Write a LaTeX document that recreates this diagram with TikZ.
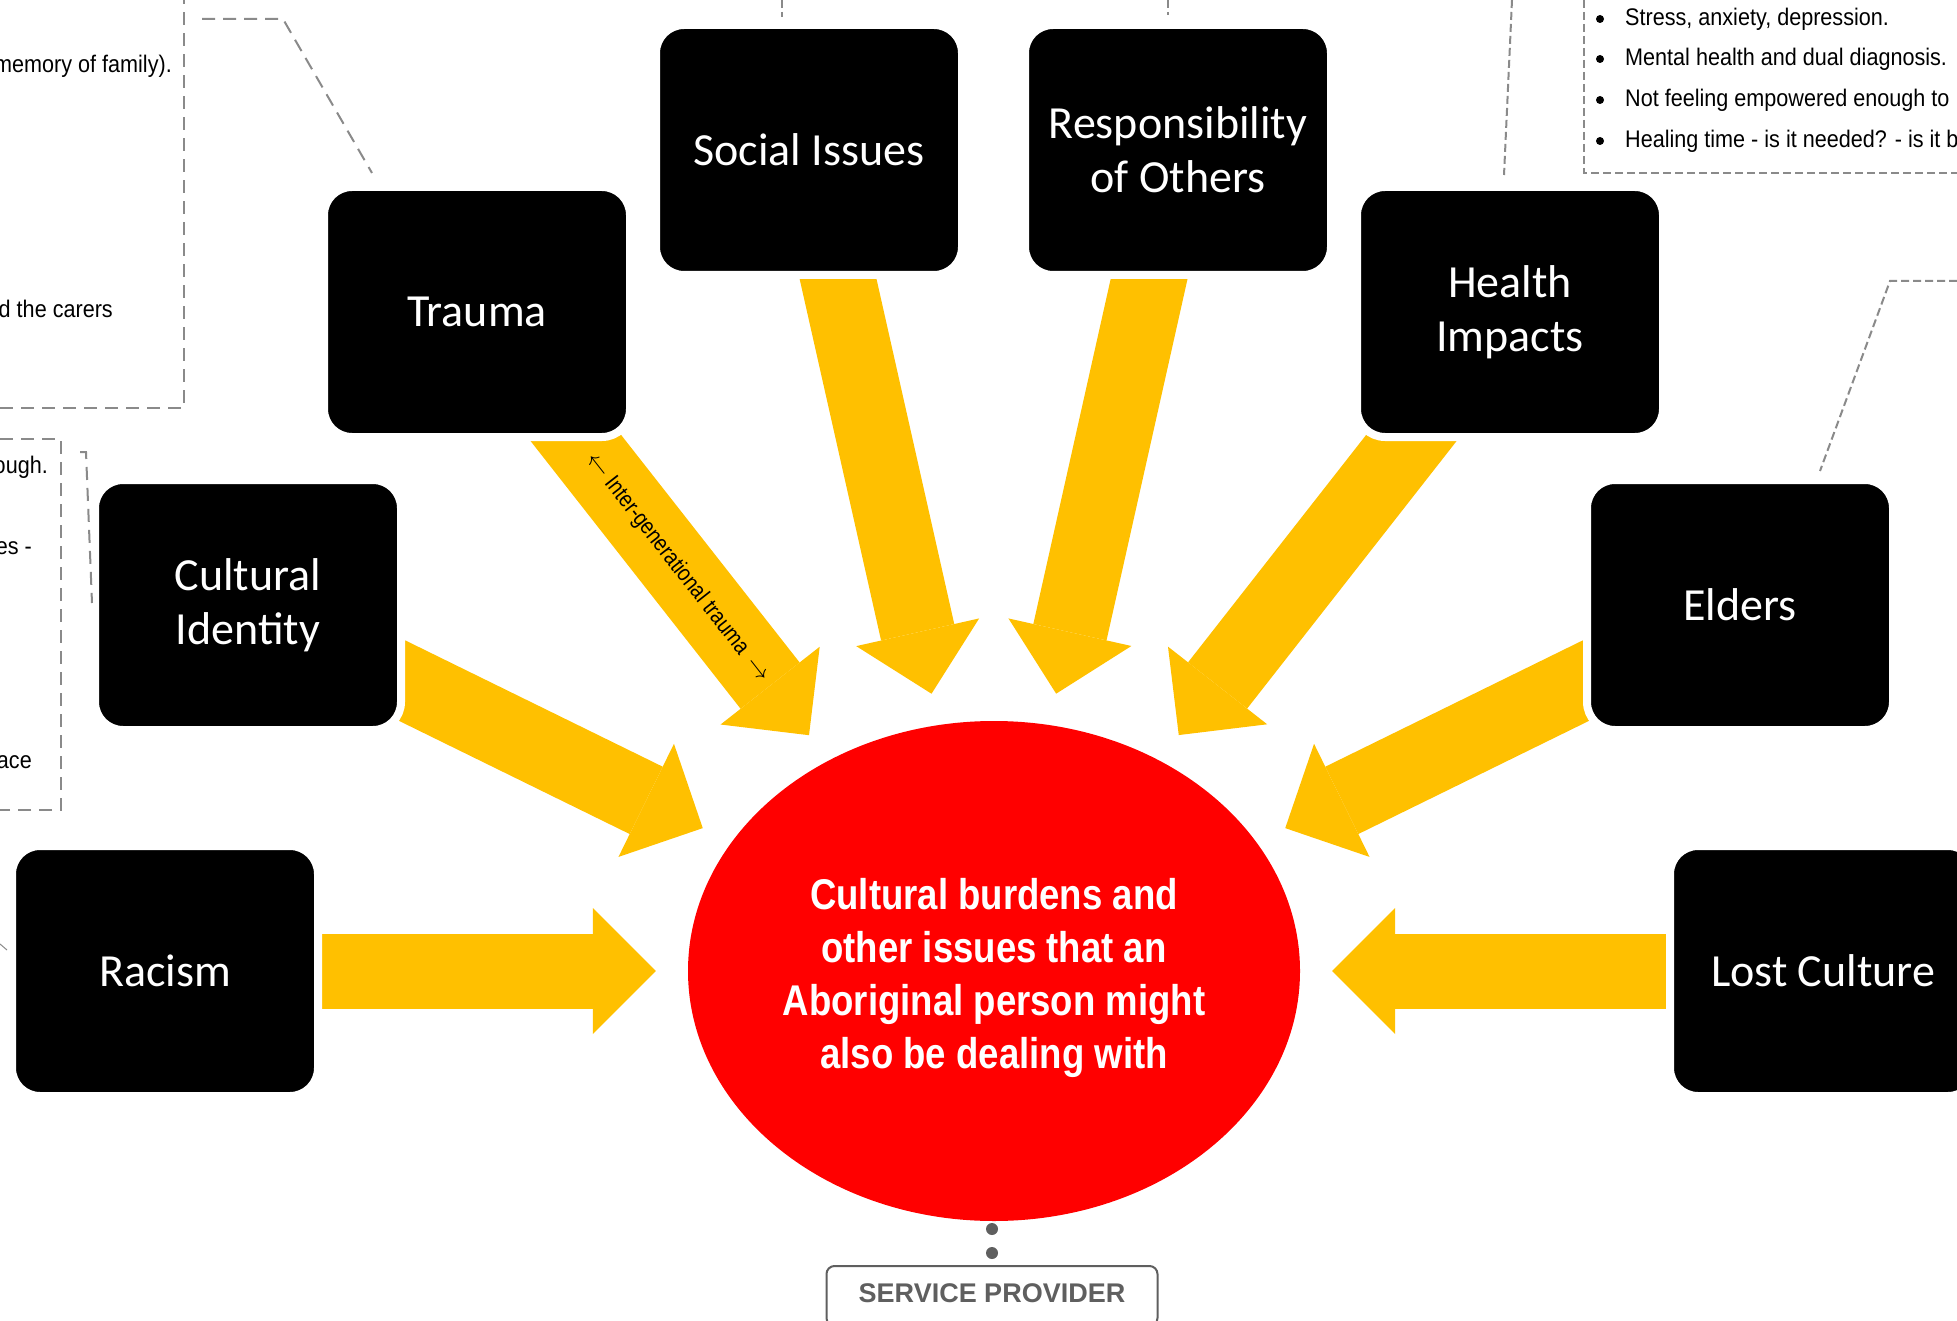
\documentclass[tikz,border=0pt]{standalone}
\usepackage{fontspec}
\setmainfont{Liberation Sans}
\newfontfamily\boxfont{Carlito}
\newfontfamily\narrowfont[FakeStretch=0.85]{Liberation Sans}
\newfontfamily\notefont[FakeStretch=0.9]{Liberation Sans}
\usetikzlibrary{arrows.meta,shapes.geometric,backgrounds}
\definecolor{gold}{HTML}{FFC000}
\definecolor{notegray}{HTML}{8A8A8A}
\definecolor{spgray}{HTML}{5F5F5F}
\begin{document}
\begin{tikzpicture}[x=1pt,y=-1pt,
  issue/.style={fill=black,draw=white,line width=8pt,rounded corners=28pt,minimum width=306pt,minimum height=250pt,
    text=white,align=center,font=\boxfont\fontsize{46}{54}\selectfont},
  core/.style={ellipse,fill=red,minimum width=612pt,minimum height=500pt,inner sep=0pt},
  coretext/.style={text=white,align=center,font=\narrowfont\bfseries\fontsize{43}{53}\selectfont},
  fat/.style={gold,line width=75pt,shorten >=32pt,-{Triangle[length=63pt,width=126pt,line width=0pt]}},
  note/.style={notegray,line width=2pt,dash pattern=on 13pt off 8pt},
  finenote/.style={notegray,line width=2pt,dash pattern=on 8pt off 4pt},
  snip/.style={anchor=east,inner sep=0pt,font=\notefont\fontsize{24}{28}\selectfont},
  item/.style={anchor=west,inner sep=0pt,font=\notefont\fontsize{24}{28}\selectfont},
  dot/.style={circle,fill=#1,inner sep=0pt}]
\useasboundingbox (0,0) rectangle (1957,1321);
\clip (0,0) rectangle (1957,1321);

\node[core] (burden) at (994,971) {};
\node[coretext] (burdentext) at (994,978) {Cultural burdens and\\other issues that an\\Aboriginal person might\\also be dealing with};

\node[issue] (trauma) at (477,312) {Trauma};
\node[issue] (social) at (809,150) {Social Issues};
\node[issue] (others) at (1178,150) {Responsibility\\of Others};
\node[issue] (health) at (1510,312) {Health\\Impacts};
\node[issue] (identity) at (248,605) {Cultural\\Identity};
\node[issue] (elders) at (1740,605) {Elders};
\node[issue] (racism) at (165,971) {Racism};
\node[issue] (lost) at (1823,971) {Lost Culture};

\begin{scope}[on background layer]
\foreach \n in {racism,identity,trauma,social,others,health,elders,lost}
  \draw[fat] (\n.center) -- (burden);
\end{scope}
\path (trauma.center) -- node[sloped,pos=0.57,font=\narrowfont\fontsize{23}{26}\selectfont] (igt)
  {$\leftarrow$ Inter-generational trauma \,$\rightarrow$} (burden);

\node[dot=spgray,minimum size=12pt] (d1) at (992,1229) {};
\node[dot=spgray,minimum size=12pt] (d2) at (992,1253) {};
\node[draw=spgray,line width=2pt,rounded corners=8pt,minimum width=331pt,minimum height=60pt,text depth=6pt,
  text=spgray,font=\bfseries\fontsize{27}{32}\selectfont] (provider) at (992,1296) {SERVICE PROVIDER};

\draw[note] (0,408) -- (184,408) -- (184,0);
\draw[note] (202,19) -- (283,19) -- (372,173);
\draw[note] (0,439) -- (61,439) -- (61,810) -- (0,810);
\draw[note] (80,452) -- (86,452) -- (92,603);
\draw[notegray,line width=1pt] (0,944) -- (7,950);
\draw[finenote] (782,0) -- (782,17);
\draw[finenote] (1168,0) -- (1168,15);
\draw[finenote] (1512,0) -- (1504,175);
\draw[finenote] (1584,0) -- (1584,173) -- (1957,173);
\draw[finenote] (1957,281) -- (1890,281) -- (1820,471);

\node[snip] (s1) at (172,66) {memory of family).};
\node[snip] (s2) at (113,309) {d the carers};
\node[snip] (s3) at (48,467) {ough.};
\node[snip] (s4) at (32,548) {es -};
\node[snip] (s5) at (32,762) {ace};

\foreach \y/\t in {19/{Stress, anxiety, depression.},59/{Mental health and dual diagnosis.},
    100/{Not feeling empowered enough to},141/{Healing time - is it needed? - is it b}}{
  \node[dot=black,minimum size=8pt] at (1600,\y) {};
  \node[item] at (1625,\y) {\t};
}
\end{tikzpicture}
\end{document}
